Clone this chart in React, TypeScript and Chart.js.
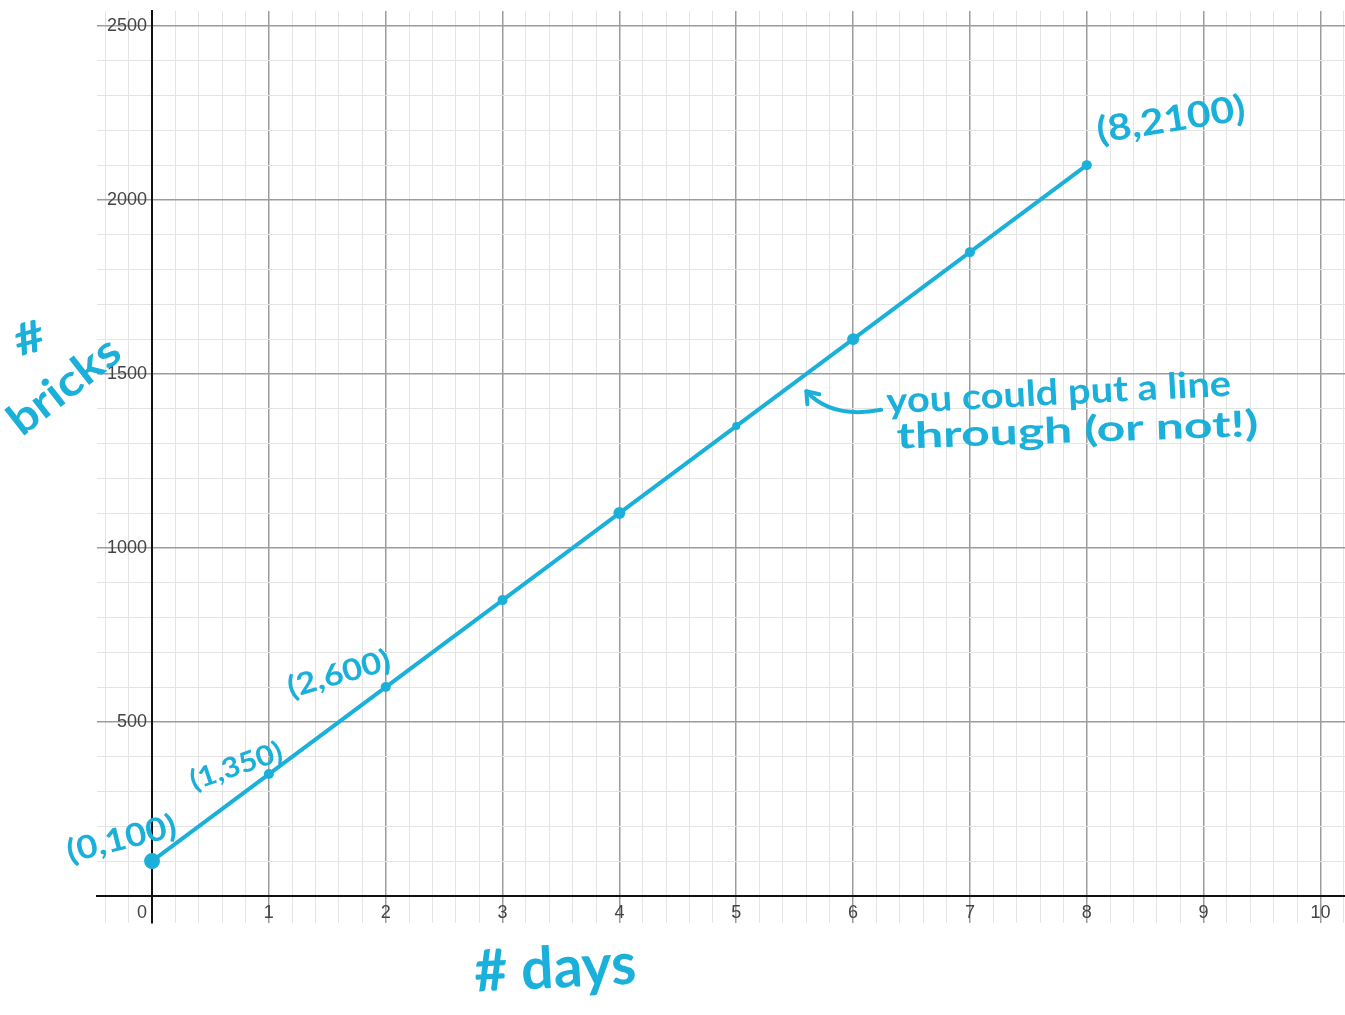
import React, { useEffect, useRef } from 'react';
import { Chart, registerables } from 'chart.js';

Chart.register(...registerables);

// ---- data ----
const days = [0, 1, 2, 3, 4, 5, 6, 7, 8];
const bricks = [100, 350, 600, 850, 1100, 1350, 1600, 1850, 2100];
const xTickLabels = ['0', '1', '2', '3', '4', '5', '6', '7', '8', '9', '10'];
const yTickLabels = ['500', '1000', '1500', '2000', '2500'];

// handwritten notes (data coordinates)
const noteTexts = ['(0,100)', '(1,350)', '(2,600)', '(8,2100)', 'you could put a line', 'through (or not!)', '#', 'bricks', '# days'];
const noteX = [-0.26, 0.72, 1.6, 8.72, 7.76, 7.92, -1.05, -0.75, 3.45];
const noteY = [163, 372, 637, 2230, 1445, 1337, 1600, 1465, -210];

const INK = '#1bb0da';

const noteStyle = [
  { size: 32, angle: -14, width: 112 },
  { size: 28, angle: -19, width: 96 },
  { size: 30, angle: -16, width: 106 },
  { size: 36, angle: -9, width: 150 },
  { size: 36, angle: -3, width: 345 },
  { size: 36, angle: -2, width: 362 },
  { size: 44, angle: -15, width: 30 },
  { size: 44, angle: -38, width: 130 },
  { size: 58, angle: -3, width: 162 },
];

const isWhole = (v: number) => Math.abs(v - Math.round(v)) < 1e-6;

const zeroPad = (s: any) => {
  s.paddingLeft = 0;
  s.paddingRight = 0;
  s.paddingTop = 0;
  s.paddingBottom = 0;
};

const notesPlugin = {
  id: 'notes',
  afterDatasetsDraw(chart: any) {
    const { ctx, scales } = chart;
    const xs = scales.x;
    const ys = scales.y;
    ctx.save();
    ctx.fillStyle = INK;
    ctx.textAlign = 'center';
    ctx.textBaseline = 'middle';
    noteTexts.forEach((t, i) => {
      const px = xs.getPixelForValue(noteX[i]);
      const py = ys.getPixelForValue(noteY[i]);
      const st = noteStyle[i];
      ctx.save();
      ctx.translate(px, py);
      ctx.rotate((st.angle * Math.PI) / 180);
      ctx.font = `700 ${st.size}px Lato, "Noto Sans", sans-serif`;
      const w = ctx.measureText(t).width;
      ctx.scale(st.width / w, 1);
      ctx.fillText(t, 0, 0);
      ctx.restore();
    });
    // arrow pointing at the line
    const ax0 = xs.getPixelForValue(6.24), ay0 = ys.getPixelForValue(1397);
    const acx = xs.getPixelForValue(5.82), acy = ys.getPixelForValue(1370);
    const ax1 = xs.getPixelForValue(5.6), ay1 = ys.getPixelForValue(1450);
    ctx.strokeStyle = INK;
    ctx.lineWidth = 4;
    ctx.lineCap = 'round';
    ctx.lineJoin = 'round';
    ctx.beginPath();
    ctx.moveTo(ax0, ay0);
    ctx.quadraticCurveTo(acx, acy, ax1, ay1);
    ctx.stroke();
    ctx.beginPath();
    ctx.moveTo(ax1 + 1, ay1 + 13);
    ctx.lineTo(ax1, ay1);
    ctx.lineTo(ax1 + 13, ay1 + 3);
    ctx.stroke();
    ctx.restore();
  },
};

const tickFont = { family: '"Liberation Sans", Arial, sans-serif', size: 18 };

export default function App() {
  const ref = useRef<HTMLCanvasElement | null>(null);

  useEffect(() => {
    if (!ref.current) return;
    const chart = new Chart(ref.current, {
      type: 'line',
      data: {
        datasets: [
          {
            data: days.map((d, i) => ({ x: d, y: bricks[i] })),
            borderColor: INK,
            backgroundColor: INK,
            borderWidth: 4,
            pointRadius: [8, 5, 5, 5, 6, 4, 6, 5, 5],
            pointBorderWidth: 0,
            pointBackgroundColor: INK,
            showLine: true,
            tension: 0,
          },
        ],
      },
      options: {
        animation: false,
        responsive: false,
        layout: { padding: { left: 97, top: 11, right: 0, bottom: 92 } },
        plugins: { legend: { display: false }, tooltip: { enabled: false } },
        scales: {
          x: {
            type: 'linear',
            min: -0.471,
            max: 10.21,
            position: { y: 0 } as any,
            afterFit: zeroPad,
            ticks: {
              stepSize: 0.2,
              precision: 1,
              includeBounds: false,
              autoSkip: false,
              maxRotation: 0,
              padding: 6,
              color: '#444',
              font: tickFont,
              callback: (v: any) => {
                const n = Number(v);
                if (!isWhole(n) || n < 0) return '';
                const idx = Math.round(n);
                const lab = xTickLabels[idx];
                if (lab === undefined) return '';
                return idx === 0 ? lab + '    ' : lab;
              },
            },
            grid: {
              drawTicks: false,
              color: (c: any) => (isWhole(c.tick.value) ? '#9c9c9c' : '#e4e4e4'),
              lineWidth: (c: any) => (isWhole(c.tick.value) ? 1.5 : 1),
            },
            border: { display: true, color: '#111', width: 2 },
          },
          y: {
            type: 'linear',
            min: -78,
            max: 2543,
            position: { x: 0 } as any,
            afterFit: zeroPad,
            ticks: {
              stepSize: 100,
              precision: 0,
              includeBounds: false,
              autoSkip: false,
              padding: 6,
              color: '#444',
              font: tickFont,
              callback: (v: any) => {
                const n = Math.round(Number(v));
                if (n <= 0 || n % 500 !== 0) return '';
                const lab = yTickLabels[n / 500 - 1];
                return lab ? lab + ' ' : '';
              },
            },
            grid: {
              drawTicks: false,
              color: (c: any) => (Math.round(c.tick.value) % 500 === 0 ? '#9c9c9c' : '#e4e4e4'),
              lineWidth: (c: any) => (Math.round(c.tick.value) % 500 === 0 ? 1.5 : 1),
            },
            border: { display: true, color: '#111', width: 2 },
          },
        },
      },
      plugins: [notesPlugin],
    });
    return () => chart.destroy();
  }, []);

  return (
    <div style={{ position: 'absolute', left: 0, top: 0, width: 1345, height: 1015, background: '#fff', overflow: 'hidden' }}>
      <canvas ref={ref} width={1353} height={1015} style={{ display: 'block' }} />
    </div>
  );
}
